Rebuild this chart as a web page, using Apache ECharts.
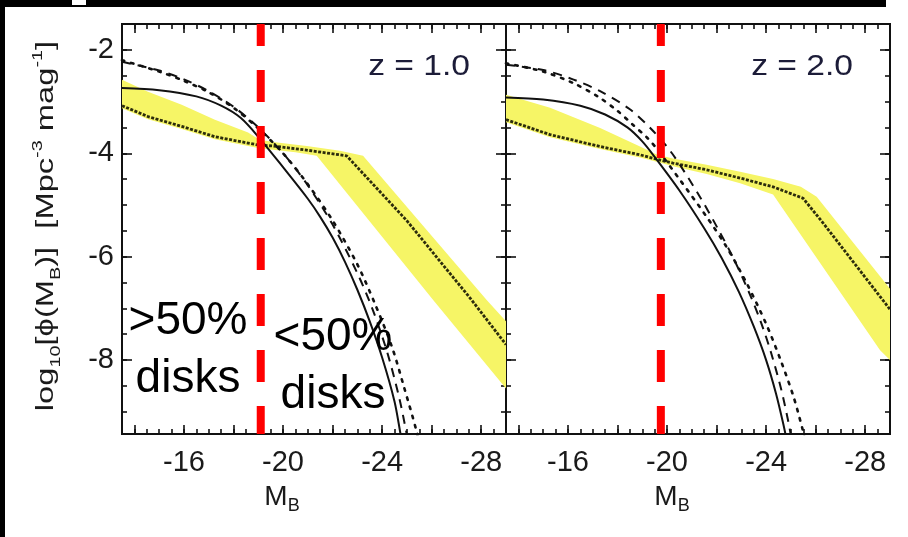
<!DOCTYPE html>
<html>
<head>
<meta charset="utf-8">
<script src="https://cdn.jsdelivr.net/npm/echarts@6/dist/echarts.min.js"></script>
<style>
html,body{margin:0;padding:0;background:#fff;overflow:hidden;scrollbar-width:none;}
html::-webkit-scrollbar,body::-webkit-scrollbar{display:none;width:0;height:0;}
#chart{width:908px;height:537px;}
</style>
</head>
<body>
<div id="chart"></div>
<script>
// Axis ranges (absolute B magnitude, log10 number density)
const X_MIN = -29, X_MAX = -13.5;
const Y_MIN = -9.43, Y_MAX = -1.5;

// Tick labels
const xTickLabels = [-16, -20, -24, -28];
const yTickLabels = [-2, -4, -6, -8];
const xMajorTicks = [-14, -16, -18, -20, -22, -24, -26, -28];
const yMajorTicks = [-2, -4, -6, -8];

// Panel labels
const panelLabels = ['z = 1.0', 'z = 2.0'];

// Disk-fraction divide (M_B) per panel
const diskDivide = [-19.1, -19.75];

// ---- z = 1.0 panel ----
const solidZ1 = [[-13.5,-2.74],[-15.0,-2.78],[-16.5,-2.9],[-17.5,-3.08],[-18.3,-3.32],[-19.07,-3.72],[-20.0,-4.27],[-21.0,-4.88],[-21.5,-5.23],[-22.0,-5.63],[-22.5,-6.1],[-23.0,-6.64],[-23.5,-7.25],[-24.0,-7.95],[-24.5,-8.8],[-24.75,-9.45],[-24.85,-9.7]];
const dashedZ1 = [[-13.5,-2.23],[-15.0,-2.4],[-16.0,-2.57],[-17.0,-2.8],[-18.0,-3.1],[-19.0,-3.5],[-20.0,-4.0],[-21.0,-4.62],[-22.0,-5.38],[-23.0,-6.32],[-23.6,-7.0],[-24.2,-7.84],[-24.7,-8.75],[-25.0,-9.45],[-25.1,-9.7]];
const dottedZ1 = [[-13.5,-2.2],[-15.0,-2.42],[-16.0,-2.6],[-17.0,-2.82],[-18.0,-3.12],[-19.0,-3.52],[-20.0,-4.0],[-21.0,-4.6],[-22.0,-5.3],[-23.0,-6.15],[-23.7,-6.9],[-24.4,-7.75],[-24.9,-8.55],[-25.4,-9.4],[-25.5,-9.7]];
const bandMidZ1 = [[-13.5,-3.08],[-14.55,-3.29],[-15.91,-3.48],[-17.25,-3.68],[-18.99,-3.84],[-19.6,-3.86],[-20.96,-3.94],[-22.57,-4.05],[-24.99,-5.3],[-27.55,-6.8],[-29,-7.7]];
const bandHiZ1 = [[-13.5,-2.58],[-14.55,-2.81],[-15.91,-3.06],[-17.25,-3.35],[-18.59,-3.6],[-19.05,-3.74],[-19.6,-3.78],[-20.96,-3.86],[-22.3,-3.95],[-23.23,-4.05],[-28.22,-6.84],[-29,-7.25]];
const bandLoZ1 = [[-13.5,-3.13],[-14.55,-3.34],[-15.91,-3.53],[-17.25,-3.73],[-18.99,-3.9],[-19.6,-3.93],[-20.5,-3.98],[-21.36,-4.05],[-26.06,-6.84],[-29,-8.55]];

// ---- z = 2.0 panel ----
const solidZ2 = [[-13.5,-2.92],[-15.0,-2.96],[-16.5,-3.08],[-17.5,-3.25],[-18.4,-3.5],[-19.0,-3.77],[-19.5,-4.07],[-20.5,-4.72],[-21.5,-5.45],[-22.2,-6.02],[-22.9,-6.68],[-23.5,-7.35],[-24.0,-8.0],[-24.4,-8.65],[-24.7,-9.25],[-24.85,-9.6]];
const dashedZ2 = [[-13.5,-2.29],[-15.0,-2.39],[-16.2,-2.57],[-17.3,-2.8],[-18.5,-3.15],[-19.4,-3.55],[-20.2,-4.0],[-21.3,-4.82],[-22.1,-5.5],[-22.7,-6.05],[-23.3,-6.68],[-23.8,-7.28],[-24.2,-7.86],[-24.6,-8.55],[-24.9,-9.2],[-25.05,-9.6]];
const dottedZ2 = [[-13.5,-2.26],[-15.0,-2.42],[-16.2,-2.64],[-17.2,-2.9],[-18.0,-3.18],[-18.6,-3.44],[-19.2,-3.7],[-19.6,-3.92],[-20.5,-4.5],[-21.6,-5.23],[-22.4,-5.81],[-23.2,-6.5],[-24.0,-7.3],[-24.6,-8.02],[-25.1,-8.7],[-25.45,-9.3],[-25.6,-9.6]];
const bandMidZ2 = [[-13.5,-3.35],[-15.28,-3.64],[-17.3,-3.87],[-18.91,-4.03],[-19.7,-4.13],[-20.24,-4.19],[-21.6,-4.32],[-22.95,-4.48],[-24.28,-4.65],[-25.49,-4.87],[-26.3,-5.35],[-27.66,-6.19],[-29,-7.02]];
const bandHiZ2 = [[-13.5,-2.87],[-15.28,-3.12],[-17.3,-3.51],[-18.91,-3.87],[-19.6,-4.03],[-20.24,-4.1],[-21.6,-4.22],[-22.95,-4.36],[-24.28,-4.5],[-25.4,-4.65],[-26.04,-4.84],[-29,-6.62]];
const bandLoZ2 = [[-13.5,-3.4],[-15.28,-3.69],[-17.3,-3.92],[-18.91,-4.08],[-19.7,-4.18],[-20.24,-4.25],[-21.6,-4.4],[-22.95,-4.58],[-24.28,-4.8],[-28.6,-7.81],[-29,-8.0]];

const panels = [
  {solid: solidZ1, dashed: dashedZ1, dotted: dottedZ1, mid: bandMidZ1, hi: bandHiZ1, lo: bandLoZ1},
  {solid: solidZ2, dashed: dashedZ2, dotted: dottedZ2, mid: bandMidZ2, hi: bandHiZ2, lo: bandLoZ2}
];

const FONT = '"Liberation Sans", Arial, Helvetica, sans-serif';
const INK = '#111111';

// Minor tick positions every half unit
function halfSteps(a, b) {
  const out = [];
  for (let v = a; v >= b - 1e-9; v -= 0.5) out.push(+v.toFixed(2));
  return out;
}
const xMinorTicks = halfSteps(-14, -28.5);
const yMinorTicks = halfSteps(-2, -9);

function xAxisDef(grid, pos, ticks, len, labels) {
  return {
    type: 'value', gridIndex: grid, position: pos, min: X_MIN, max: X_MAX, inverse: true,
    axisLine: {show: true, onZero: false, lineStyle: {color: INK, width: 2}},
    axisTick: {show: true, inside: true, length: len, customValues: ticks, lineStyle: {color: INK, width: 1.6}},
    axisLabel: labels ? {show: true, customValues: labels, margin: 14, fontSize: 29, color: '#1a1a1a', fontFamily: FONT} : {show: false},
    splitLine: {show: false}
  };
}
function yAxisDef(grid, pos, ticks, len, labels) {
  return {
    type: 'value', gridIndex: grid, position: pos, min: Y_MIN, max: Y_MAX,
    axisLine: {show: true, onZero: false, lineStyle: {color: INK, width: 2}},
    axisTick: {show: true, inside: true, length: len, customValues: ticks, lineStyle: {color: INK, width: 1.6}},
    axisLabel: labels ? {show: true, customValues: labels, margin: 8, fontSize: 29, color: '#1a1a1a', fontFamily: FONT} : {show: false},
    splitLine: {show: false}
  };
}

const xAxes = [], yAxes = [], series = [];
[0, 1].forEach(function (g) {
  const xBase = xAxes.length, yBase = yAxes.length;
  xAxes.push(xAxisDef(g, 'bottom', xMajorTicks, 9, xTickLabels));
  xAxes.push(xAxisDef(g, 'bottom', xMinorTicks, 5, null));
  xAxes.push(xAxisDef(g, 'top', xMajorTicks, 9, null));
  xAxes.push(xAxisDef(g, 'top', xMinorTicks, 5, null));
  yAxes.push(yAxisDef(g, 'left', yMajorTicks, 10, g === 0 ? yTickLabels : null));
  yAxes.push(yAxisDef(g, 'left', yMinorTicks, 5, null));
  yAxes.push(yAxisDef(g, 'right', yMajorTicks, 10, null));
  yAxes.push(yAxisDef(g, 'right', yMinorTicks, 5, null));

  const p = panels[g];
  const ax = {xAxisIndex: xBase, yAxisIndex: yBase};

  // uncertainty band
  series.push(Object.assign({
    type: 'custom', clip: true, silent: true, z: 1,
    data: [[-20, -4]],
    renderItem: function (params, api) {
      const pts = p.hi.map(function (d) { return api.coord(d); })
        .concat(p.lo.slice().reverse().map(function (d) { return api.coord(d); }));
      return {type: 'polygon', shape: {points: pts}, style: {fill: '#f6f566'}};
    }
  }, ax));
  // best-fit line through the band
  series.push(Object.assign({
    type: 'line', data: p.mid, showSymbol: false, silent: true, z: 3, clip: true,
    lineStyle: {color: '#2c2c0c', width: 2.8, type: [3, 1.5]}
  }, ax));
  // model curves
  series.push(Object.assign({
    type: 'line', data: p.solid, showSymbol: false, smooth: 0.3, silent: true, z: 4, clip: true,
    lineStyle: {color: INK, width: 2}
  }, ax));
  series.push(Object.assign({
    type: 'line', data: p.dashed, showSymbol: false, smooth: 0.3, silent: true, z: 4, clip: true,
    lineStyle: {color: INK, width: 2, type: [9, 7]}
  }, ax));
  series.push(Object.assign({
    type: 'line', data: p.dotted, showSymbol: false, smooth: 0.3, silent: true, z: 4, clip: true,
    lineStyle: {color: INK, width: 2.6, type: [2.5, 7], cap: 'round'}
  }, ax));
  // disk-fraction divide
  series.push(Object.assign({
    type: 'line', data: [[diskDivide[g], Y_MIN], [diskDivide[g], Y_MAX]], showSymbol: false, silent: true, z: 8, clip: false,
    lineStyle: {color: '#ff0000', width: 8, type: [32, 24], dashOffset: 4}
  }, ax));
});

function subLabel(main, sub) {
  return '{m|' + main + '}{s|' + sub + '}';
}
const mbRich = {
  m: {font: '28px ' + FONT, fill: '#1a1a1a', lineHeight: 36, verticalAlign: 'middle'},
  s: {font: '18px ' + FONT, fill: '#1a1a1a', lineHeight: 18, verticalAlign: 'bottom'}
};

const option = {
  animation: false,
  backgroundColor: '#ffffff',
  grid: [
    {left: 122, top: 24, width: 384, height: 410, containLabel: false},
    {left: 506, top: 24, width: 384, height: 410, containLabel: false}
  ],
  xAxis: xAxes,
  yAxis: yAxes,
  series: series,
  graphic: [
    {type: 'rect', left: 0, top: 0, shape: {width: 886, height: 7}, style: {fill: '#000'}, z: 100},
    {type: 'rect', left: 72, top: 0, shape: {width: 14, height: 5}, style: {fill: '#fff'}, z: 101},
    {type: 'rect', left: 0, top: 0, shape: {width: 5, height: 537}, style: {fill: '#000'}, z: 100},
    {type: 'text', z: 50, x: 470, y: 67, scaleX: 1.12, style: {text: panelLabels[0], font: '30px ' + FONT, fill: '#1c1c38', align: 'right', verticalAlign: 'middle'}},
    {type: 'text', z: 50, x: 853, y: 67, scaleX: 1.12, style: {text: panelLabels[1], font: '30px ' + FONT, fill: '#1c1c38', align: 'right', verticalAlign: 'middle'}},
    {type: 'text', z: 50, x: 188, y: 350, style: {text: '>50%\ndisks', font: '46px ' + FONT, lineHeight: 58, fill: '#000', align: 'center', verticalAlign: 'middle'}},
    {type: 'text', z: 50, x: 333, y: 366, style: {text: '<50%\ndisks', font: '46px ' + FONT, lineHeight: 58, fill: '#000', align: 'center', verticalAlign: 'middle'}},
    {type: 'text', z: 50, x: 282, y: 497, style: {text: subLabel('M', 'B'), align: 'center', verticalAlign: 'middle', rich: mbRich}},
    {type: 'text', z: 50, x: 672, y: 497, style: {text: subLabel('M', 'B'), align: 'center', verticalAlign: 'middle', rich: mbRich}},
    {type: 'text', z: 50, x: 47, y: 226, rotation: Math.PI / 2, scaleX: 1.42, style: {
      text: '{m|log}{s|10}{m|[ϕ(M}{s|B}{m|)]  [Mpc}{p|-3}{m| mag}{p|-1}{m|]}',
      align: 'center', verticalAlign: 'middle',
      rich: {m: {font: '23px ' + FONT, fill: '#1a1a1a', lineHeight: 32, verticalAlign: 'middle'},
             s: {font: '14px ' + FONT, fill: '#1a1a1a', lineHeight: 14, verticalAlign: 'bottom'},
             p: {font: '14px ' + FONT, fill: '#1a1a1a', lineHeight: 14, verticalAlign: 'top'}}
    }}
  ]
};

const chart = echarts.init(document.getElementById('chart'), null, {renderer: 'canvas'});
chart.setOption(option);
</script>
</body>
</html>
